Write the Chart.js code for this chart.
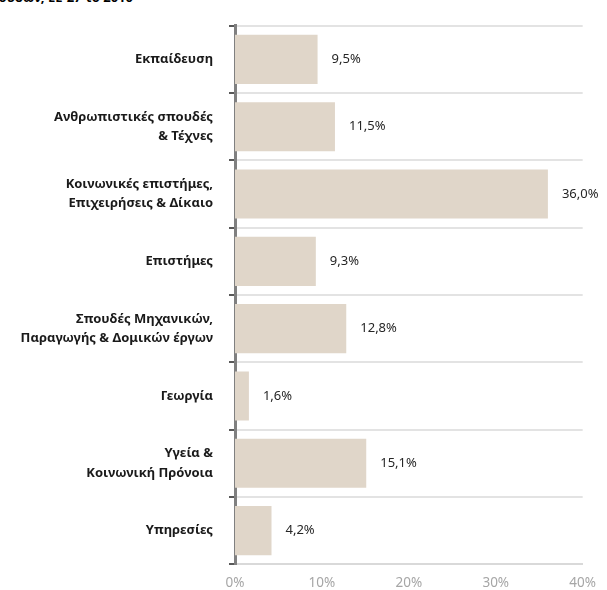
<!DOCTYPE html>
<html>
<head>
<meta charset="utf-8">
<script src="https://cdn.jsdelivr.net/npm/chart.js@4.4.0/dist/chart.umd.min.js"></script>
<style>
  html, body { margin: 0; padding: 0; background: #fff; overflow: hidden; }
  #wrap { position: relative; width: 607px; height: 590px; overflow: hidden; }
  #title { position: absolute; top: -12px; right: 474px; white-space: nowrap;
           font: bold 13px "Noto Sans", sans-serif; color: #000; }
  canvas { position: absolute; left: 0; top: 0; }
</style>
</head>
<body>
<div id="wrap">
  <div id="title">Κατανομή αποφοίτων ανά πεδίο σπουδών, ΕΕ-27 το 2010</div>
  <canvas id="c" width="607" height="590"></canvas>
</div>
<script>
const categories = [
  ["Εκπαίδευση"],
  ["Ανθρωπιστικές σπουδές", "& Τέχνες"],
  ["Κοινωνικές επιστήμες,", "Επιχειρήσεις & Δίκαιο"],
  ["Επιστήμες"],
  ["Σπουδές Μηχανικών,", "Παραγωγής & Δομικών έργων"],
  ["Γεωργία"],
  ["Υγεία &", "Κοινωνική Πρόνοια"],
  ["Υπηρεσίες"]
];
const shares = [9.5, 11.5, 36.0, 9.3, 12.8, 1.6, 15.1, 4.2];
const xTicks = [0, 10, 20, 30, 40];

const valueLabels = {
  id: 'valueLabels',
  afterDatasetsDraw(chart) {
    const ctx = chart.ctx;
    const meta = chart.getDatasetMeta(0);
    ctx.save();
    ctx.font = '13px "Noto Sans", sans-serif';
    ctx.fillStyle = '#262626';
    ctx.textAlign = 'left';
    ctx.textBaseline = 'middle';
    meta.data.forEach((bar, i) => {
      const txt = shares[i].toFixed(1).replace('.', ',') + '%';
      ctx.fillText(txt, bar.x + 14, bar.y);
    });
    ctx.restore();
  }
};

new Chart(document.getElementById('c'), {
  type: 'bar',
  data: {
    labels: categories,
    datasets: [{
      data: shares,
      backgroundColor: '#e0d6c9',
      borderWidth: 0,
      categoryPercentage: 1.0,
      barPercentage: 0.73
    }]
  },
  plugins: [valueLabels],
  options: {
    indexAxis: 'y',
    responsive: false,
    animation: false,
    devicePixelRatio: 1,
    layout: { padding: { top: 15, right: 22, left: 0, bottom: 0 } },
    plugins: { legend: { display: false }, tooltip: { enabled: false }, title: { display: false } },
    scales: {
      x: {
        min: 0, max: 40,
        afterBuildTicks(scale) { scale.ticks = xTicks.map(v => ({ value: v })); },
        grid: { display: false, drawTicks: false },
        border: { display: true, color: '#d9d9d9', width: 2 },
        ticks: {
          padding: 11,
          color: '#a6a6a6',
          font: { size: 13.5, family: '"Noto Sans", sans-serif' },
          callback: v => v + '%'
        },
        afterFit(scale) { scale.height = 25; }
      },
      y: {
        grid: {
          display: true, offset: true, drawOnChartArea: true, drawTicks: true,
          color: '#e3e3e3', lineWidth: 2, tickLength: 6, tickColor: '#595959', tickWidth: 2
        },
        border: { display: true, color: '#808080', width: 3 },
        ticks: {
          padding: 16,
          color: '#1a1a1a',
          font: { size: 13, weight: 'bold', family: '"Noto Sans", sans-serif', lineHeight: 1.5 }
        },
        afterFit(scale) { scale.width = 235; }
      }
    }
  }
});
</script>
</body>
</html>
